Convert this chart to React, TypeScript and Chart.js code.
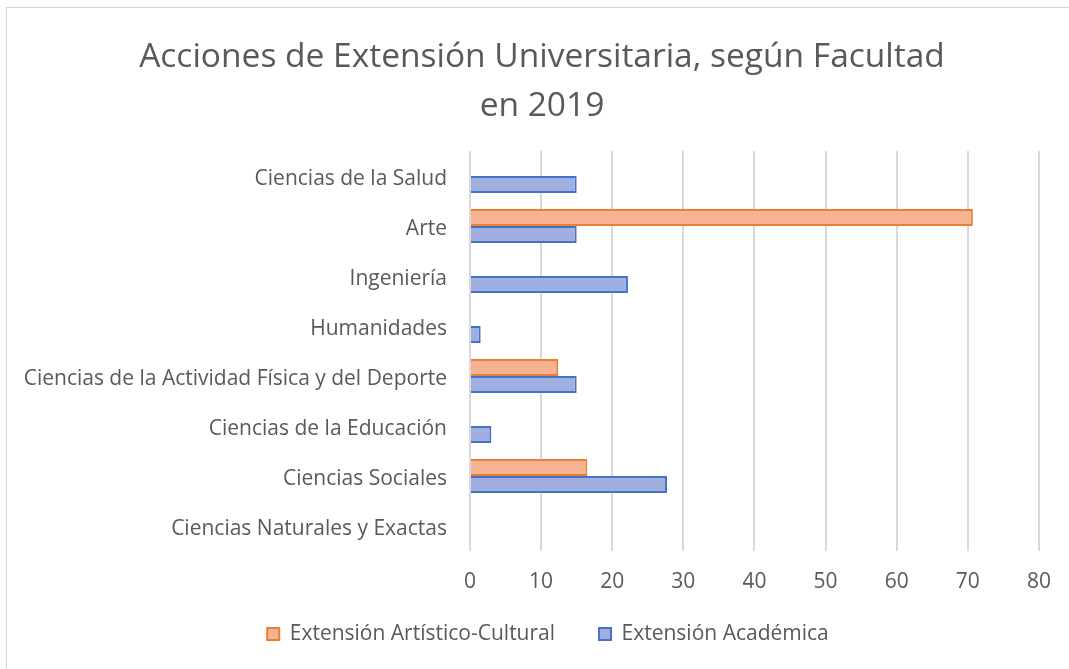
import { useEffect, useRef } from 'react';
import { Chart, registerables } from 'chart.js';

Chart.register(...registerables);

const titleLines = ['Acciones de Extensión Universitaria, según Facultad', 'en 2019'];
const categories = [
  'Ciencias de la Salud',
  'Arte',
  'Ingeniería',
  'Humanidades',
  'Ciencias de la Actividad Física y del Deporte',
  'Ciencias de la Educación',
  'Ciencias Sociales',
  'Ciencias Naturales y Exactas',
];
const seriesNames = ['Extensión Artístico-Cultural', 'Extensión Académica'];
const artisticoCultural = [null, 70.7, null, null, 12.4, null, 16.5, null];
const academica = [15, 15, 22.2, 1.5, 15, 3, 27.7, null];
const xMin = 0;
const xMax = 80;
const xStep = 10;

const FONT = '"Open Sans", sans-serif';
const TEXT = '#595959';
const LABEL_SIZE = 21;
const TITLE_SIZE = 33.5;

export default function App() {
  const ref = useRef<HTMLCanvasElement | null>(null);

  useEffect(() => {
    if (!ref.current) return;
    const legendFit = {
      id: 'legendFit',
      beforeLayout(chart: any) {
        const lg = chart.legend;
        if (lg && !lg.__patched) {
          const orig = lg.fit.bind(lg);
          lg.fit = function () {
            orig();
            this.height = 58;
          };
          lg.__patched = true;
        }
      },
      afterLayout(chart: any) {
        const lg = chart.legend;
        if (lg) {
          const itemH = LABEL_SIZE * 1.2;
          const top = 636 - 44 - itemH / 2;
          lg.top = top;
          lg.bottom = chart.height;
          lg.height = lg.bottom - lg.top;
          lg.left += 28;
          lg.right += 28;
        }
        const tb = chart.titleBlock;
        if (tb) {
          tb.left += 22;
          tb.right += 22;
        }
      },
    };
    const chart = new Chart(ref.current, {
      type: 'bar',
      data: {
        labels: categories,
        datasets: [
          {
            label: seriesNames[0],
            data: artisticoCultural,
            backgroundColor: '#f5b393',
            borderColor: '#ed7d31',
            borderWidth: 2,
            categoryPercentage: 0.68,
            barPercentage: 1,
          },
          {
            label: seriesNames[1],
            data: academica,
            backgroundColor: '#9fb0e0',
            borderColor: '#4472c4',
            borderWidth: 2,
            categoryPercentage: 0.68,
            barPercentage: 1,
          },
        ],
      },
      options: {
        indexAxis: 'y',
        responsive: false,
        animation: false,
        layout: { padding: { left: 0, right: 29, top: 0, bottom: 0 } },
        plugins: {
          title: {
            display: true,
            text: titleLines,
            color: TEXT,
            font: { family: FONT, size: TITLE_SIZE, weight: 'normal', lineHeight: 49 / TITLE_SIZE },
            padding: { top: 33, bottom: 20 },
          },
          legend: {
            position: 'bottom',
            labels: {
              color: TEXT,
              font: { family: FONT, size: LABEL_SIZE },
              boxWidth: 12,
              boxHeight: 12,
              padding: 44,
            },
          },
          tooltip: { enabled: false },
        },
        scales: {
          x: {
            min: xMin,
            max: xMax,
            ticks: { stepSize: xStep, color: TEXT, font: { family: FONT, size: LABEL_SIZE }, padding: 18 },
            grid: { color: '#d9d9d9', lineWidth: 2, drawTicks: false },
            border: { display: false },
            afterFit(scale: any) {
              scale.height = 60;
            },
          },
          y: {
            ticks: { color: TEXT, font: { family: FONT, size: LABEL_SIZE }, padding: 23, labelOffset: 3 },
            grid: { display: false, drawTicks: false },
            border: { display: false },
            afterFit(scale: any) {
              scale.width = 470;
            },
          },
        },
      },
      plugins: [legendFit],
    } as any);
    return () => chart.destroy();
  }, []);

  return (
    <div style={{ position: 'fixed', left: 0, top: 0, width: 1069, height: 669, background: '#fff', overflow: 'hidden' }}>
      <div
        style={{
          position: 'absolute',
          left: 6,
          top: 7,
          width: 1100,
          height: 700,
          borderLeft: '1px solid #d4d4d4',
          borderTop: '1px solid #d4d4d4',
        }}
      />
      <canvas ref={ref} width={1069} height={669} style={{ position: 'absolute', left: 0, top: 0, width: 1069, height: 669 }} />
    </div>
  );
}
